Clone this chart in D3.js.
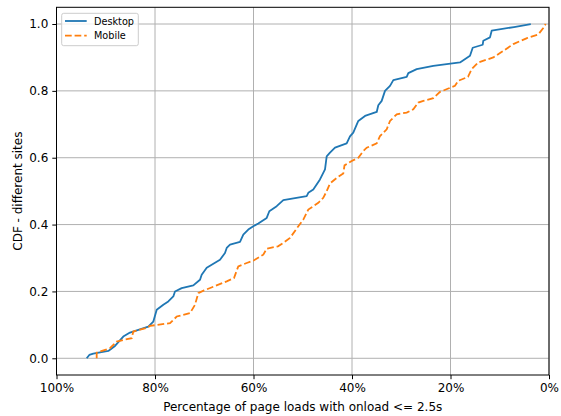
<!DOCTYPE html>
<html>
<head>
<meta charset="utf-8">
<script src="https://cdn.jsdelivr.net/npm/d3@7"></script>
<style>
  html, body { margin: 0; padding: 0; background: #fff; }
  svg { display: block; }
  text { font-family: "DejaVu Sans", sans-serif; fill: #000; }
</style>
</head>
<body>
<svg id="chart" width="561" height="416"></svg>
<script>
// ---- data ----
const seriesNames = ["Desktop", "Mobile"];
const seriesColors = ["#1f77b4", "#ff7f0e"];

const desktopPct = [93.87, 93.34, 92.53, 89.48, 88.12, 86.44, 85.08, 81.36, 80.34, 79.65, 78.31, 77.30, 76.28, 75.94, 74.58, 72.22, 70.86, 70.52, 69.50, 66.80, 65.79, 65.44, 64.77, 62.74, 62.07, 61.06, 60.04, 59.03, 57.32, 56.79, 55.29, 53.95, 49.20, 48.87, 47.86, 46.50, 45.48, 45.14, 44.47, 43.45, 41.08, 40.41, 39.74, 38.72, 37.36, 34.98, 34.66, 33.97, 33.30, 32.28, 31.61, 28.89, 28.57, 26.86, 23.49, 18.07, 16.04, 15.49, 13.46, 13.34, 11.98, 11.64, 7.11, 3.70];
const desktopCdf = [0.000, 0.010, 0.014, 0.022, 0.037, 0.065, 0.077, 0.095, 0.110, 0.145, 0.160, 0.170, 0.185, 0.200, 0.210, 0.218, 0.235, 0.250, 0.271, 0.295, 0.315, 0.330, 0.340, 0.348, 0.370, 0.385, 0.395, 0.403, 0.420, 0.440, 0.455, 0.473, 0.485, 0.495, 0.505, 0.535, 0.565, 0.604, 0.615, 0.630, 0.643, 0.664, 0.675, 0.710, 0.725, 0.737, 0.757, 0.770, 0.800, 0.815, 0.832, 0.842, 0.853, 0.865, 0.875, 0.885, 0.905, 0.929, 0.938, 0.950, 0.960, 0.980, 0.991, 1.000];

const mobilePct = [91.84, 91.84, 89.14, 87.78, 86.44, 84.73, 84.41, 81.68, 81.02, 76.95, 75.59, 72.89, 71.88, 71.21, 70.05, 65.44, 63.96, 63.09, 61.38, 60.04, 58.01, 57.32, 55.03, 53.95, 52.59, 50.90, 49.89, 48.87, 46.84, 45.83, 45.14, 44.47, 43.05, 41.77, 41.52, 40.06, 38.72, 37.71, 37.01, 34.98, 34.31, 32.95, 32.28, 30.92, 28.89, 27.55, 26.54, 25.52, 23.49, 22.13, 20.45, 19.09, 18.42, 16.45, 15.70, 14.36, 11.31, 9.95, 7.25, 4.47, 2.17, 1.16, 0.67];
const mobileCdf = [0.000, 0.017, 0.030, 0.050, 0.055, 0.060, 0.080, 0.091, 0.097, 0.105, 0.125, 0.135, 0.160, 0.195, 0.203, 0.230, 0.240, 0.275, 0.285, 0.292, 0.310, 0.328, 0.335, 0.345, 0.360, 0.395, 0.415, 0.445, 0.465, 0.480, 0.500, 0.523, 0.540, 0.553, 0.577, 0.590, 0.600, 0.620, 0.630, 0.643, 0.665, 0.685, 0.710, 0.730, 0.735, 0.745, 0.765, 0.770, 0.778, 0.797, 0.807, 0.815, 0.830, 0.842, 0.865, 0.885, 0.900, 0.913, 0.940, 0.958, 0.969, 0.988, 1.000];

const xTicks = [100, 80, 60, 40, 20, 0];
const xTickLabels = ["100%", "80%", "60%", "40%", "20%", "0%"];
const yTicks = [0.0, 0.2, 0.4, 0.6, 0.8, 1.0];
const yTickLabels = ["0.0", "0.2", "0.4", "0.6", "0.8", "1.0"];

const xLabel = "Percentage of page loads with onload <= 2.5s";
const yLabel = "CDF - different sites";

// ---- layout ----
const svg = d3.select("#chart");
const pLeft = 56.5, pRight = 549, pTop = 7.3, pBottom = 375;

const x = d3.scaleLinear().domain([100, 0]).range([pLeft, pRight]);
const y = d3.scaleLinear().domain([-0.05, 1.05]).range([pBottom, pTop]);

// grid
const grid = svg.append("g");
grid.selectAll("line.gx").data(xTicks).enter().append("line")
  .attr("x1", d => x(d)).attr("x2", d => x(d))
  .attr("y1", pTop).attr("y2", pBottom)
  .attr("stroke", "#b0b0b0").attr("stroke-width", 1);
grid.selectAll("line.gy").data(yTicks).enter().append("line")
  .attr("x1", pLeft).attr("x2", pRight)
  .attr("y1", d => y(d)).attr("y2", d => y(d))
  .attr("stroke", "#b0b0b0").attr("stroke-width", 1);

// lines
const line = d3.line().x(d => x(d[0])).y(d => y(d[1]));
const desktop = desktopPct.map((p, i) => [p, desktopCdf[i]]);
const mobile = mobilePct.map((p, i) => [p, mobileCdf[i]]);

svg.append("path").datum(desktop)
  .attr("d", line).attr("fill", "none")
  .attr("stroke", seriesColors[0]).attr("stroke-width", 1.8)
  .attr("stroke-linejoin", "round");
svg.append("path").datum(mobile)
  .attr("d", line).attr("fill", "none")
  .attr("stroke", seriesColors[1]).attr("stroke-width", 1.8)
  .attr("stroke-dasharray", "6.7,2.9");

// axes
const xAxis = d3.axisBottom(x).tickValues(xTicks)
  .tickFormat((d, i) => xTickLabels[i]).tickSize(4.2).tickPadding(4);
const yAxis = d3.axisLeft(y).tickValues(yTicks)
  .tickFormat((d, i) => yTickLabels[i]).tickSize(4.2).tickPadding(4);

const gx = svg.append("g").attr("transform", `translate(0,${pBottom})`).call(xAxis);
const gy = svg.append("g").attr("transform", `translate(${pLeft},0)`).call(yAxis);
[gx, gy].forEach(g => {
  g.select(".domain").remove();
  g.selectAll(".tick line").attr("stroke", "#000").attr("stroke-width", 1);
  g.selectAll(".tick text").attr("font-size", "12px")
    .attr("font-family", "DejaVu Sans, sans-serif").attr("fill", "#000");
});

// frame
svg.append("rect").attr("x", pLeft).attr("y", pTop)
  .attr("width", pRight - pLeft).attr("height", pBottom - pTop)
  .attr("fill", "none").attr("stroke", "#000").attr("stroke-width", 1);

// labels
svg.append("text").attr("x", (pLeft + pRight) / 2).attr("y", 411)
  .attr("text-anchor", "middle").attr("font-size", "12px").text(xLabel);
svg.append("text")
  .attr("transform", `translate(21.5,${(pTop + pBottom) / 2}) rotate(-90)`)
  .attr("text-anchor", "middle").attr("font-size", "12px").text(yLabel);

// legend
const lg = svg.append("g");
lg.append("rect").attr("x", 61.7).attr("y", 13.3).attr("width", 76.6).attr("height", 32.4)
  .attr("rx", 2).attr("fill", "#fff").attr("fill-opacity", 0.8)
  .attr("stroke", "#cccccc").attr("stroke-width", 1);
seriesNames.forEach((name, i) => {
  const ly = 21 + i * 14.7;
  lg.append("line").attr("x1", 65).attr("x2", 86.7).attr("y1", ly).attr("y2", ly)
    .attr("stroke", seriesColors[i]).attr("stroke-width", 1.8)
    .attr("stroke-dasharray", i === 1 ? "6.7,2.9" : null);
  lg.append("text").attr("x", 94).attr("y", ly + 3.5)
    .attr("font-size", "9.7px").text(name);
});
</script>
</body>
</html>
